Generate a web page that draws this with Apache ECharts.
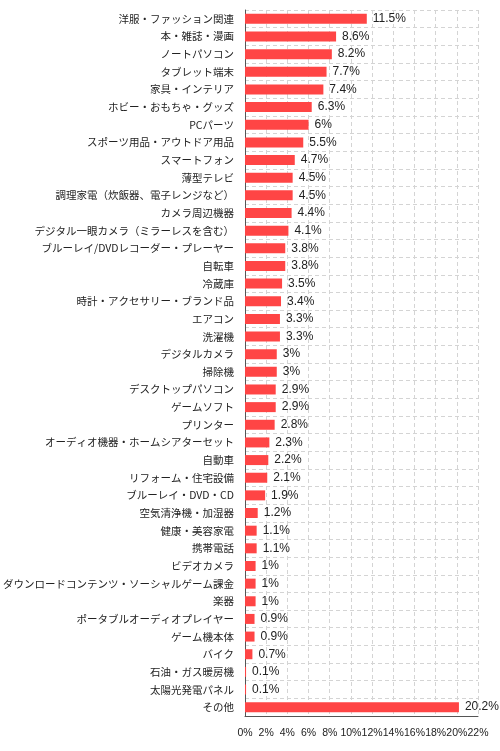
<!DOCTYPE html>
<html>
<head>
<meta charset="utf-8">
<script src="https://cdn.jsdelivr.net/npm/echarts@6/dist/echarts.min.js"></script>
<style>
html,body{margin:0;padding:0;background:#fff;}
#chart{width:500px;height:751px;}
</style>
</head>
<body>
<div id="chart"></div>
<script>
const categories = [
  '洋服・ファッション関連','本・雑誌・漫画','ノートパソコン','タブレット端末','家具・インテリア',
  'ホビー・おもちゃ・グッズ','PCパーツ','スポーツ用品・アウトドア用品','スマートフォン','薄型テレビ',
  '調理家電（炊飯器、電子レンジなど）','カメラ周辺機器','デジタル一眼カメラ（ミラーレスを含む）','ブルーレイ/DVDレコーダー・プレーヤー','自転車',
  '冷蔵庫','時計・アクセサリー・ブランド品','エアコン','洗濯機','デジタルカメラ',
  '掃除機','デスクトップパソコン','ゲームソフト','プリンター','オーディオ機器・ホームシアターセット',
  '自動車','リフォーム・住宅設備','ブルーレイ・DVD・CD','空気清浄機・加湿器','健康・美容家電',
  '携帯電話','ビデオカメラ','ダウンロードコンテンツ・ソーシャルゲーム課金','楽器','ポータブルオーディオプレイヤー',
  'ゲーム機本体','バイク','石油・ガス暖房機','太陽光発電パネル','その他'
];
const values = [
  11.5, 8.6, 8.2, 7.7, 7.4,
  6.3, 6, 5.5, 4.7, 4.5,
  4.5, 4.4, 4.1, 3.8, 3.8,
  3.5, 3.4, 3.3, 3.3, 3,
  3, 2.9, 2.9, 2.8, 2.3,
  2.2, 2.1, 1.9, 1.2, 1.1,
  1.1, 1, 1, 1, 0.9,
  0.9, 0.7, 0.1, 0.1, 20.2
];
const xTicks = [0, 2, 4, 6, 8, 10, 12, 14, 16, 18, 20, 22];

const chart = echarts.init(document.getElementById('chart'), null, {renderer: 'canvas'});
chart.setOption({
  animation: false,
  backgroundColor: '#fff',
  grid: {left: 240, right: 22, top: 10, bottom: 35, containLabel: false},
  xAxis: {
    type: 'value',
    min: xTicks[0],
    max: xTicks[xTicks.length - 1],
    interval: 2,
    axisLine: {show: true, lineStyle: {color: '#555', width: 1}},
    axisTick: {show: false},
    axisLabel: {
      formatter: '{value}%',
      color: '#222',
      fontSize: 10.5,
      fontFamily: 'Liberation Sans, Arial, sans-serif',
      margin: 12,
      showMinLabel: true,
      showMaxLabel: true,
      hideOverlap: false
    },
    splitLine: {show: true, lineStyle: {color: '#d4d4d4', type: [4, 3], width: 1}}
  },
  yAxis: {
    type: 'category',
    data: categories,
    inverse: true,
    axisLine: {show: true, lineStyle: {color: '#555', width: 1}},
    axisTick: {show: false},
    axisLabel: {
      color: '#222',
      fontSize: 10.5,
      fontFamily: 'Noto Sans CJK JP, sans-serif',
      margin: 11,
      interval: 0
    },
    splitLine: {show: true, lineStyle: {color: '#d4d4d4', type: [4, 3], width: 1}}
  },
  series: [{
    type: 'bar',
    data: values,
    barWidth: 10,
    itemStyle: {color: '#ff4545'},
    label: {
      show: true,
      position: 'right',
      distance: 6,
      formatter: p => p.value + '%',
      color: '#222',
      fontSize: 12,
      fontFamily: 'Liberation Sans, Arial, sans-serif'
    }
  }]
});
</script>
</body>
</html>
